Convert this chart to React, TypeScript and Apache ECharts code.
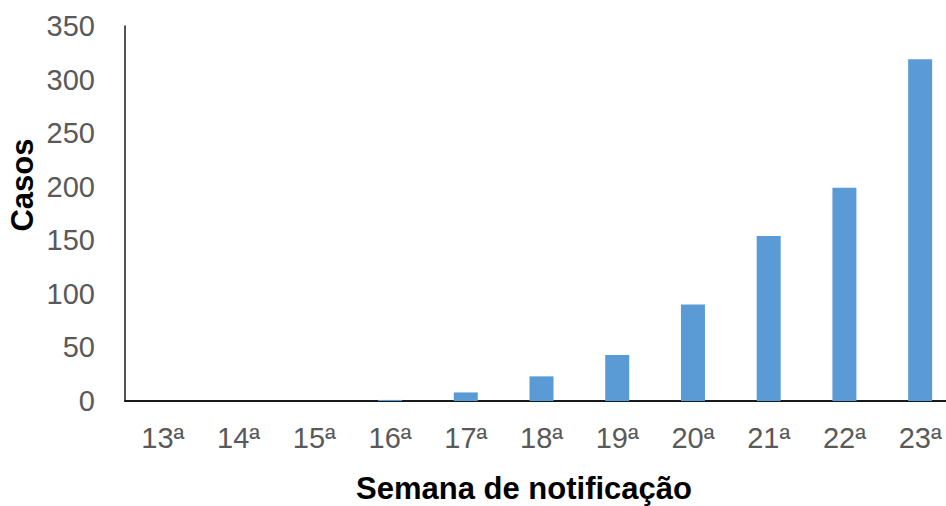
import React, { useEffect, useRef } from "react";
import * as echarts from "echarts";

const categories = ["13ª", "14ª", "15ª", "16ª", "17ª", "18ª", "19ª", "20ª", "21ª", "22ª", "23ª"];
const casos = [0, 0, 0, 1, 8, 23, 43, 90, 154, 199, 319];
const yTicks = { min: 0, max: 350, interval: 50 };
const xTitle = "Semana de notificação";
const yTitle = "Casos";

export default function App() {
  const ref = useRef<HTMLDivElement>(null);
  useEffect(() => {
    if (!ref.current) return;
    const chart = echarts.init(ref.current, null, { renderer: "svg" });
    chart.setOption({
      animation: false,
      backgroundColor: "#ffffff",
      grid: { left: 125, top: 26, width: 833, height: 375 },
      xAxis: {
        type: "category",
        data: categories,
        axisLine: { lineStyle: { color: "#1a1a1a", width: 2 } },
        axisTick: { show: false },
        axisLabel: {
          color: "#595959",
          fontFamily: "Liberation Sans, Arial, sans-serif",
          fontSize: 29,
          margin: 22,
        },
      },
      yAxis: {
        type: "value",
        min: yTicks.min,
        max: yTicks.max,
        interval: yTicks.interval,
        axisLine: { show: true, lineStyle: { color: "#1a1a1a", width: 1.5 } },
        axisTick: { show: false },
        splitLine: { show: false },
        axisLabel: {
          color: "#595959",
          fontFamily: "Liberation Sans, Arial, sans-serif",
          fontSize: 29,
          margin: 30,
        },
      },
      graphic: [
        {
          type: "text",
          x: 22,
          y: 185,
          rotation: Math.PI / 2,
          style: {
            text: yTitle,
            fill: "#000",
            font: "bold 31px 'Liberation Sans', Arial, sans-serif",
            align: "center",
            verticalAlign: "middle",
          },
        },
        {
          type: "text",
          x: 524,
          y: 488,
          style: {
            text: xTitle,
            fill: "#000",
            font: "bold 31px 'Liberation Sans', Arial, sans-serif",
            align: "center",
            verticalAlign: "middle",
          },
        },
      ],
      series: [
        {
          type: "bar",
          data: casos,
          barWidth: 24,
          itemStyle: { color: "#5b9bd5" },
        },
      ],
    });
    return () => chart.dispose();
  }, []);
  return (
    <div
      style={{
        position: "fixed",
        left: 0,
        top: 0,
        width: 946,
        height: 506,
        overflow: "hidden",
        background: "#fff",
      }}
    >
      <div ref={ref} style={{ width: 980, height: 506 }} />
    </div>
  );
}
